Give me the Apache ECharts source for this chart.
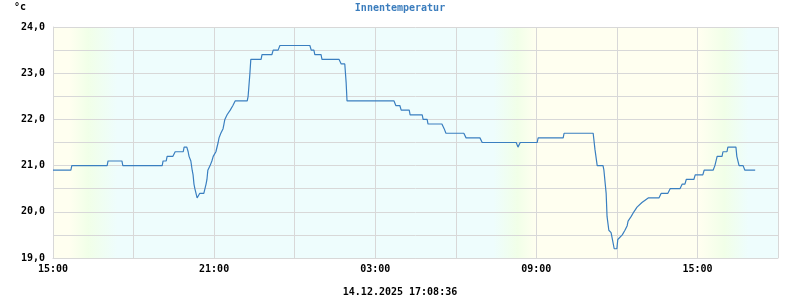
<!DOCTYPE html>
<html>
<head>
<meta charset="utf-8">
<script src="https://cdn.jsdelivr.net/npm/echarts@6/dist/echarts.min.js"></script>
<style>
html,body{margin:0;padding:0;background:#fff;}
#chart{width:800px;height:300px;}
</style>
</head>
<body>
<div id="chart"></div>
<script>
// ---- data ----
var title = 'Innentemperatur';
var unit = '°c';
var timestamp = '14.12.2025 17:08:36';
var startClock = '15:00';
var times = [
 '15:00','15:40','15:42','17:01','17:03','17:34','17:36','19:04','19:06','19:13','19:15','19:28','19:33','19:51',
 '19:53','19:59','20:02','20:04','20:08','20:11','20:13','20:15','20:17','20:22','20:24','20:28','20:37','20:42',
 '20:44','20:46','20:51','20:55','20:58','21:04','21:09','21:11','21:15','21:20','21:22','21:24','21:29','21:33',
 '21:36','21:42','21:47','22:14','22:16','22:20','22:22','22:45','22:47','23:09','23:12','23:23','23:27',
 '00:34','00:37','00:43','00:45','00:59','01:01','01:39','01:44','01:52','01:55','01:57','03:42','03:46','03:55',
 '03:58','04:16','04:18','04:45','04:47','04:56','04:58','05:29','05:34','05:38','06:18','06:23','06:54','06:59',
 '08:15','08:19','08:24','09:02','09:04','10:00','10:02','11:07','11:11','11:16','11:29','11:31','11:36','11:38',
 '11:42','11:47','11:49','11:54','12:00','12:02','12:12','12:18','12:23','12:25','12:32','12:38','12:45','12:56',
 '13:10','13:34','13:39','13:54','13:59','14:21','14:26','14:32','14:35','14:52','14:55','15:12','15:15','15:35',
 '15:39','15:44','15:55','15:57','16:06','16:08','16:26','16:28','16:33','16:42','16:46','17:09'
];
var temps = [
 20.9,20.9,21.0,21.0,21.1,21.1,21.0,21.0,21.1,21.1,21.2,21.2,21.3,21.3,
 21.4,21.4,21.3,21.2,21.1,20.9,20.8,20.6,20.5,20.3,20.3,20.4,20.4,20.6,
 20.7,20.9,21.0,21.1,21.2,21.3,21.5,21.6,21.7,21.8,21.9,22.0,22.1,22.1,
 22.2,22.3,22.4,22.4,22.5,23.0,23.3,23.3,23.4,23.4,23.5,23.5,23.6,
 23.6,23.5,23.5,23.4,23.4,23.3,23.3,23.2,23.2,22.8,22.4,22.4,22.3,22.3,
 22.2,22.2,22.1,22.1,22.0,22.0,21.9,21.9,21.8,21.7,21.7,21.6,21.6,21.5,
 21.5,21.4,21.5,21.5,21.6,21.6,21.7,21.7,21.35,21.0,21.0,20.9,20.4,19.9,
 19.6,19.55,19.45,19.2,19.2,19.4,19.5,19.6,19.7,19.8,19.9,20.0,20.1,20.2,
 20.3,20.3,20.4,20.4,20.5,20.5,20.6,20.6,20.7,20.7,20.8,20.8,20.9,20.9,
 21.0,21.2,21.2,21.3,21.3,21.4,21.4,21.2,21.0,21.0,20.9,20.9
];
var xTicks = ['15:00','21:00','03:00','09:00','15:00'];
var yTicks = ['19,0','20,0','21,0','22,0','23,0','24,0'];

// ---- build ----
function clockMin(s){var p=s.split(':');return (+p[0])*60+(+p[1]);}
var base = clockMin(startClock);
var day = 0, prev = -1, seriesData = [];
for (var i=0;i<times.length;i++){
  var c = clockMin(times[i]);
  if (prev >= 0 && c < prev) day++;
  prev = c;
  seriesData.push([(c - base + day*1440)/60, temps[i]]);
}

var FONT = '"DejaVu Sans Mono", monospace';
var Y = '#fffff0', G = '#f1ffe8', C = '#eefdfd';
function st(h, col){ return {offset: h/27, color: col}; }
var bg = new echarts.graphic.LinearGradient(0,0,1,0,[
  st(0,Y), st(0.6,Y), st(1.3,G), st(2.4,C), st(16.4,C), st(17.3,G), st(18.0,Y),
  st(24.1,Y), st(25.0,G), st(25.9,C), st(27,C)
]);

var chart = echarts.init(document.getElementById('chart'), null, {renderer:'canvas'});
chart.setOption({
  animation:false,
  backgroundColor:'#fff',
  title:[
    {text:title, left:'center', top:-2, textStyle:{fontFamily:FONT, fontSize:10, fontWeight:'bold', color:'#3b7dbd'}},
    {text:unit, left:9, top:-3, textStyle:{fontFamily:FONT, fontSize:10, fontWeight:'bold', color:'#000'}},
    {text:timestamp, left:'center', top:282, textStyle:{fontFamily:FONT, fontSize:10, fontWeight:'bold', color:'#000'}}
  ],
  grid:{left:53, right:22, top:27, bottom:42, show:true, borderWidth:0, backgroundColor:bg},
  xAxis:{
    type:'value', min:0, max:27, interval:3,
    axisLine:{show:true, lineStyle:{color:'#d8d8d8', width:1}},
    axisTick:{show:false},
    splitLine:{show:true, lineStyle:{color:'#d8d8d8', width:1}},
    axisLabel:{
      margin:6, fontFamily:FONT, fontSize:10, fontWeight:'bold', color:'#000',
      showMinLabel:true, showMaxLabel:true,
      formatter:function(v){ var k=Math.round(v/3); return (k%2===0 && xTicks[k/2]!==undefined)? xTicks[k/2] : ''; }
    }
  },
  yAxis:{
    type:'value', min:19, max:24, interval:0.5,
    axisLine:{show:true, lineStyle:{color:'#d8d8d8', width:1}},
    axisTick:{show:false},
    splitLine:{show:true, lineStyle:{color:'#d8d8d8', width:1}},
    axisLabel:{
      margin:8, fontFamily:FONT, fontSize:10, fontWeight:'bold', color:'#000',
      formatter:function(v){ var r=Math.round(v*2)/2; return (r%1===0)? yTicks[r-19] : ''; }
    }
  },
  series:[{
    type:'line', data:seriesData, showSymbol:false, symbol:'none',
    lineStyle:{color:'#3a7fc0', width:1.2}, silent:true
  }]
});
</script>
</body>
</html>
